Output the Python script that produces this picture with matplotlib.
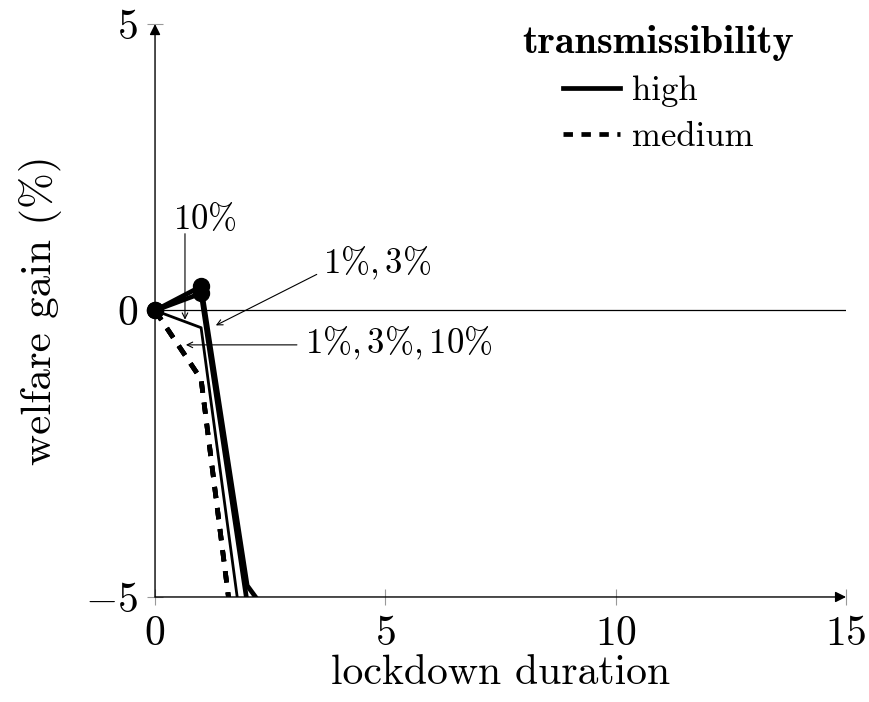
import matplotlib
matplotlib.use("Agg")
from matplotlib import pyplot as plt
from matplotlib.lines import Line2D

plt.rcParams['font.family'] = 'cmr10'
plt.rcParams['mathtext.fontset'] = 'cm'
plt.rcParams['axes.formatter.use_mathtext'] = True

# lockdown duration (x) and welfare gain in % (y)
duration = [0, 1, 2, 3]
high_1 = [0, 0.42, -4.8, -5.9]
high_3 = [0, 0.30, -5.1, -8.0]
high_10 = [0, -0.30, -6.3, -9.0]
medium_1 = [0, -1.2, -7.6, -11.0]
medium_3 = [0, -1.2, -7.6, -11.0]
medium_10 = [0, -1.2, -7.6, -11.0]

x_ticks = [0, 5, 10, 15]
y_ticks = [-5, 0, 5]

fig = plt.figure(figsize=(8.69, 7.02), dpi=100)
ax = fig.add_axes([0.1784, 0.1496, 0.7952, 0.8162])

# reference line at zero
ax.axhline(0, color='black', lw=0.9, zorder=1)

# medium transmissibility (dashed)
for yv in (medium_1, medium_3, medium_10):
    ax.plot(duration, yv, color='black', lw=3.4, dashes=(2.4, 2.1), zorder=2)
# high transmissibility (solid)
ax.plot(duration, high_10, color='black', lw=2.0, zorder=3)
for yv in (high_1, high_3):
    ax.plot(duration, yv, color='black', lw=3.4, zorder=4)
    # markers on the first two points, not clipped at the y axis
    ax.plot(duration[:2], yv[:2], 'o', color='black', markersize=11.5,
            clip_on=False, zorder=5)

# annotations
arrow = dict(arrowstyle='->', lw=0.8, color='black', shrinkA=0, shrinkB=0)
ax.annotate('', xy=(0.65, -0.16), xytext=(0.65, 1.34), arrowprops=arrow)
ax.text(1.085, 1.43, r'$10\%$', fontsize=25, ha='center', va='baseline')
ax.annotate('', xy=(1.32, -0.26), xytext=(3.51, 0.63), arrowprops=arrow)
ax.text(3.65, 0.645, r'$1\%, 3\%$', fontsize=25, ha='left', va='baseline')
ax.annotate('', xy=(0.67, -0.60), xytext=(3.08, -0.60), arrowprops=arrow)
ax.text(3.26, -0.745, r'$1\%, 3\%, 10\%$', fontsize=25, ha='left', va='baseline')

ax.set_xlim(0, 15)
ax.set_ylim(-5, 5)
ax.set_xticks(x_ticks)
ax.set_yticks(y_ticks)
ax.tick_params(direction='inout', length=11, width=0.8, color='0.6', labelsize=30)
ax.tick_params(axis='x', pad=8)
ax.tick_params(axis='y', pad=7)

# axis lines with arrow heads
for sp in ax.spines.values():
    sp.set_visible(False)
axis_arrow = dict(arrowstyle='-|>', lw=1.0, color='black', shrinkA=0, shrinkB=0,
                  mutation_scale=16)
ax.annotate('', xy=(1, 0), xytext=(0, 0), xycoords='axes fraction', arrowprops=axis_arrow)
ax.annotate('', xy=(0, 1), xytext=(0, 0), xycoords='axes fraction', arrowprops=axis_arrow)

ax.set_xlabel('lockdown duration', fontsize=30)
ax.set_ylabel(r'welfare gain (%)', fontsize=31)
ax.xaxis.set_label_coords(0.5, -0.10)
ax.yaxis.set_label_coords(-0.135, 0.5)

handles = [Line2D([], [], color='black', lw=3.4),
           Line2D([], [], color='black', lw=3.4, dashes=(2.0, 1.8))]
leg = ax.legend(handles, ['high', 'medium'], title='transmissibility', frameon=False,
                fontsize=25, loc='upper right', bbox_to_anchor=(0.93, 1.004),
                handlelength=1.64, handletextpad=0.37, labelspacing=0.4,
                borderaxespad=0, borderpad=0.1)
leg.get_title().set_fontfamily('cmb10')
leg.get_title().set_fontsize(29)
# gap between title and entries
leg._legend_box.sep = 10.5

fig.savefig('out.png', dpi=100)
